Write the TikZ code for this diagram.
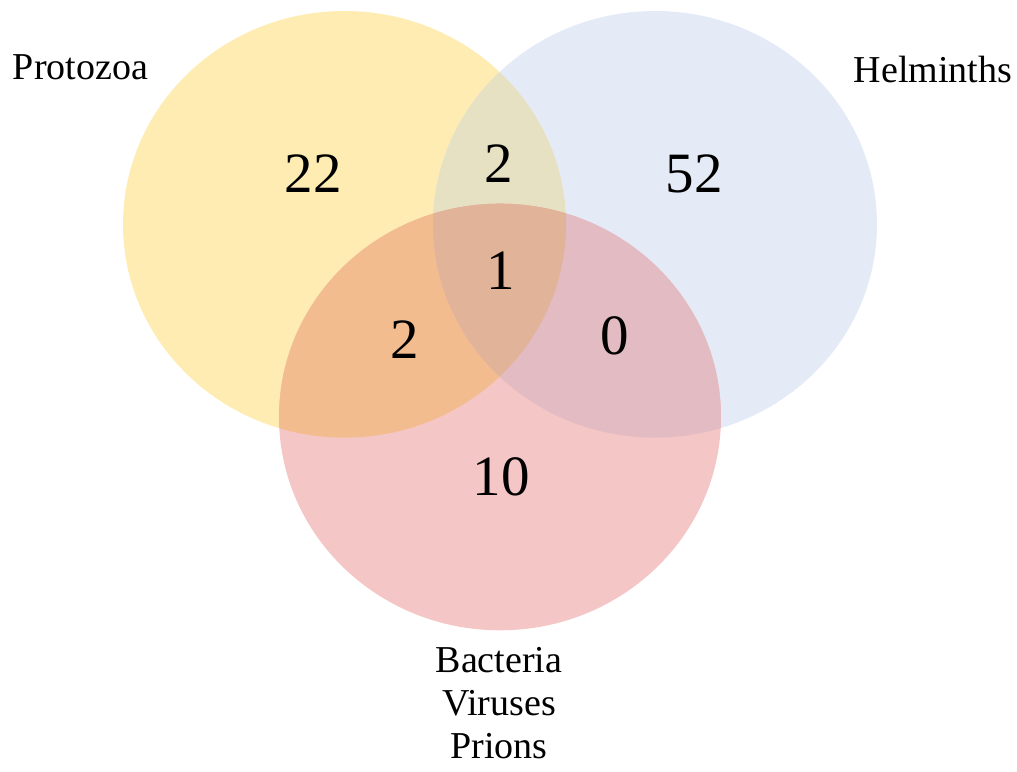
\documentclass[tikz,border=0pt]{standalone}
\usepackage{fontspec}
\setmainfont{Liberation Serif}
\usepackage{tikz}
\usetikzlibrary{shapes,calc}
\definecolor{protoC}{HTML}{FEECB3}
\definecolor{helmC}{HTML}{E5EBF6}
\definecolor{bactC}{HTML}{F4C6C6}
\definecolor{protoHelmC}{HTML}{E6E1C2}
\definecolor{protoBactC}{HTML}{F3BC8E}
\definecolor{helmBactC}{HTML}{E3BBC3}
\definecolor{allC}{HTML}{E1B398}
\newcommand{\protoSet}{(344.5,224.3) ellipse [x radius=221.5, y radius=213.3]}
\newcommand{\helmSet}{(655,224.3) ellipse [x radius=222, y radius=213.3]}
\newcommand{\bactSet}{(500,417) ellipse [x radius=221, y radius=213.3]}
\tikzstyle{setLabel}=[anchor=base, inner sep=0pt, font=\fontsize{38}{43}\selectfont]
\tikzstyle{count}=[anchor=base, inner sep=0pt, font=\fontsize{57}{60}\selectfont]

\begin{document}
\begin{tikzpicture}[x=1pt, y=-1pt]
      \useasboundingbox (0,0) rectangle (1017,771);
      % the three sets
      \fill[protoC] \protoSet;
      \fill[helmC] \helmSet;
      \fill[bactC] \bactSet;
      % overlaps
      \begin{scope}
        \clip \protoSet;
        \fill[protoHelmC] \helmSet;
        \fill[protoBactC] \bactSet;
      \end{scope}
      \begin{scope}
        \clip \helmSet;
        \fill[helmBactC] \bactSet;
        \clip \bactSet;
        \fill[allC] \protoSet;
      \end{scope}
      % labels
      \node(proto) [setLabel] at (80.5, 79){Protozoa};
      \node(helm) [setLabel] at (933, 82){Helminths};
      \node(bact) [setLabel, align=center] at (499, 758){Bacteria\\Viruses\\Prions};
      % counts
      \node(p) [count] at (313, 192){22};
      \node(h) [count] at (694, 192){52};
      \node(b) [count] at (501, 495.7){10};
      \node(ph) [count] at (499, 182){2};
      \node(pb) [count] at (405, 358){2};
      \node(hb) [count] at (615, 354){0};
      \node(phb) [count] at (501, 289.6){1};
    \end{tikzpicture}
\end{document}
